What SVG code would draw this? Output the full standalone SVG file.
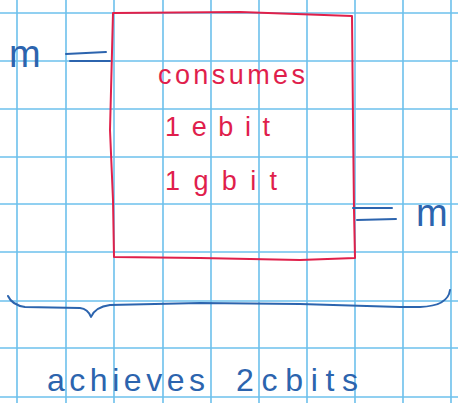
<svg xmlns="http://www.w3.org/2000/svg" width="458" height="403" viewBox="0 0 458 403">
<style>
.grid line{stroke:#6cc0ec;stroke-width:1.6}
.red{fill:none;stroke:#e0204a;stroke-width:2;stroke-linecap:round;stroke-linejoin:round}
.blue{fill:none;stroke:#2c64ae;stroke-width:2;stroke-linecap:round;stroke-linejoin:round}
.rt{fill:#e01e4c;font-family:"Liberation Sans",Arial,sans-serif;font-size:27px}
.bt{fill:#2c64ae;font-family:"Liberation Sans",Arial,sans-serif;font-size:32px}
.bm{fill:#2c64ae;font-family:"Liberation Sans",Arial,sans-serif;font-size:38px}
</style>
<rect width="458" height="403" fill="#ffffff"/>
<g class="grid">
<line x1="17" y1="0" x2="17" y2="403"/><line x1="66" y1="0" x2="66" y2="403"/><line x1="114" y1="0" x2="114" y2="403"/><line x1="163" y1="0" x2="163" y2="403"/><line x1="211" y1="0" x2="211" y2="403"/><line x1="259" y1="0" x2="259" y2="403"/><line x1="307" y1="0" x2="307" y2="403"/><line x1="355" y1="0" x2="355" y2="403"/><line x1="403" y1="0" x2="403" y2="403"/><line x1="451" y1="0" x2="451" y2="403"/>
<line x1="0" y1="13" x2="458" y2="13"/><line x1="0" y1="61" x2="458" y2="61"/><line x1="0" y1="109" x2="458" y2="109"/><line x1="0" y1="157" x2="458" y2="157"/><line x1="0" y1="204" x2="458" y2="204"/><line x1="0" y1="252" x2="458" y2="252"/><line x1="0" y1="301" x2="458" y2="301"/><line x1="0" y1="348" x2="458" y2="348"/><line x1="0" y1="397" x2="458" y2="397"/>
</g>
<g id="box">
<path class="red" d="M113 13 L240 12 L352 16 L353 120 L354 210 L355 258 L300 260 L200 258 L114 257 L113 200 L110 130 L113 13"/>
<text class="rt" x="158" y="84" textLength="147" lengthAdjust="spacing">consumes</text>
<text class="rt" x="165" y="136" textLength="105" lengthAdjust="spacing">1ebit</text>
<text class="rt" x="165" y="190" textLength="112" lengthAdjust="spacing">1gbit</text>
</g>
<g id="input">
<text class="bm" x="9" y="67">m</text>
</g>
<g id="output">
<text class="bm" x="416" y="226">m</text>
</g>
<g id="brace">
<path class="blue" d="M8 296 Q12 305 25 307 L80 308 Q88 309 91 317 Q95 307 110 305 L200 303 L300 304 L400 307 L420 307 Q448 306 450 290"/>
<text class="bt" x="47" y="391"><tspan textLength="158" lengthAdjust="spacing">achieves</tspan><tspan x="236" textLength="122" lengthAdjust="spacing">2cbits</tspan></text>
</g>
<g id="connectors">
<path class="blue" d="M66 54 L106 52"/>
<path class="blue" d="M70 61 L110 61"/>
<path class="blue" d="M353 208 L392 208"/>
<path class="blue" d="M357 220 L396 219"/>
</g>
</svg>
